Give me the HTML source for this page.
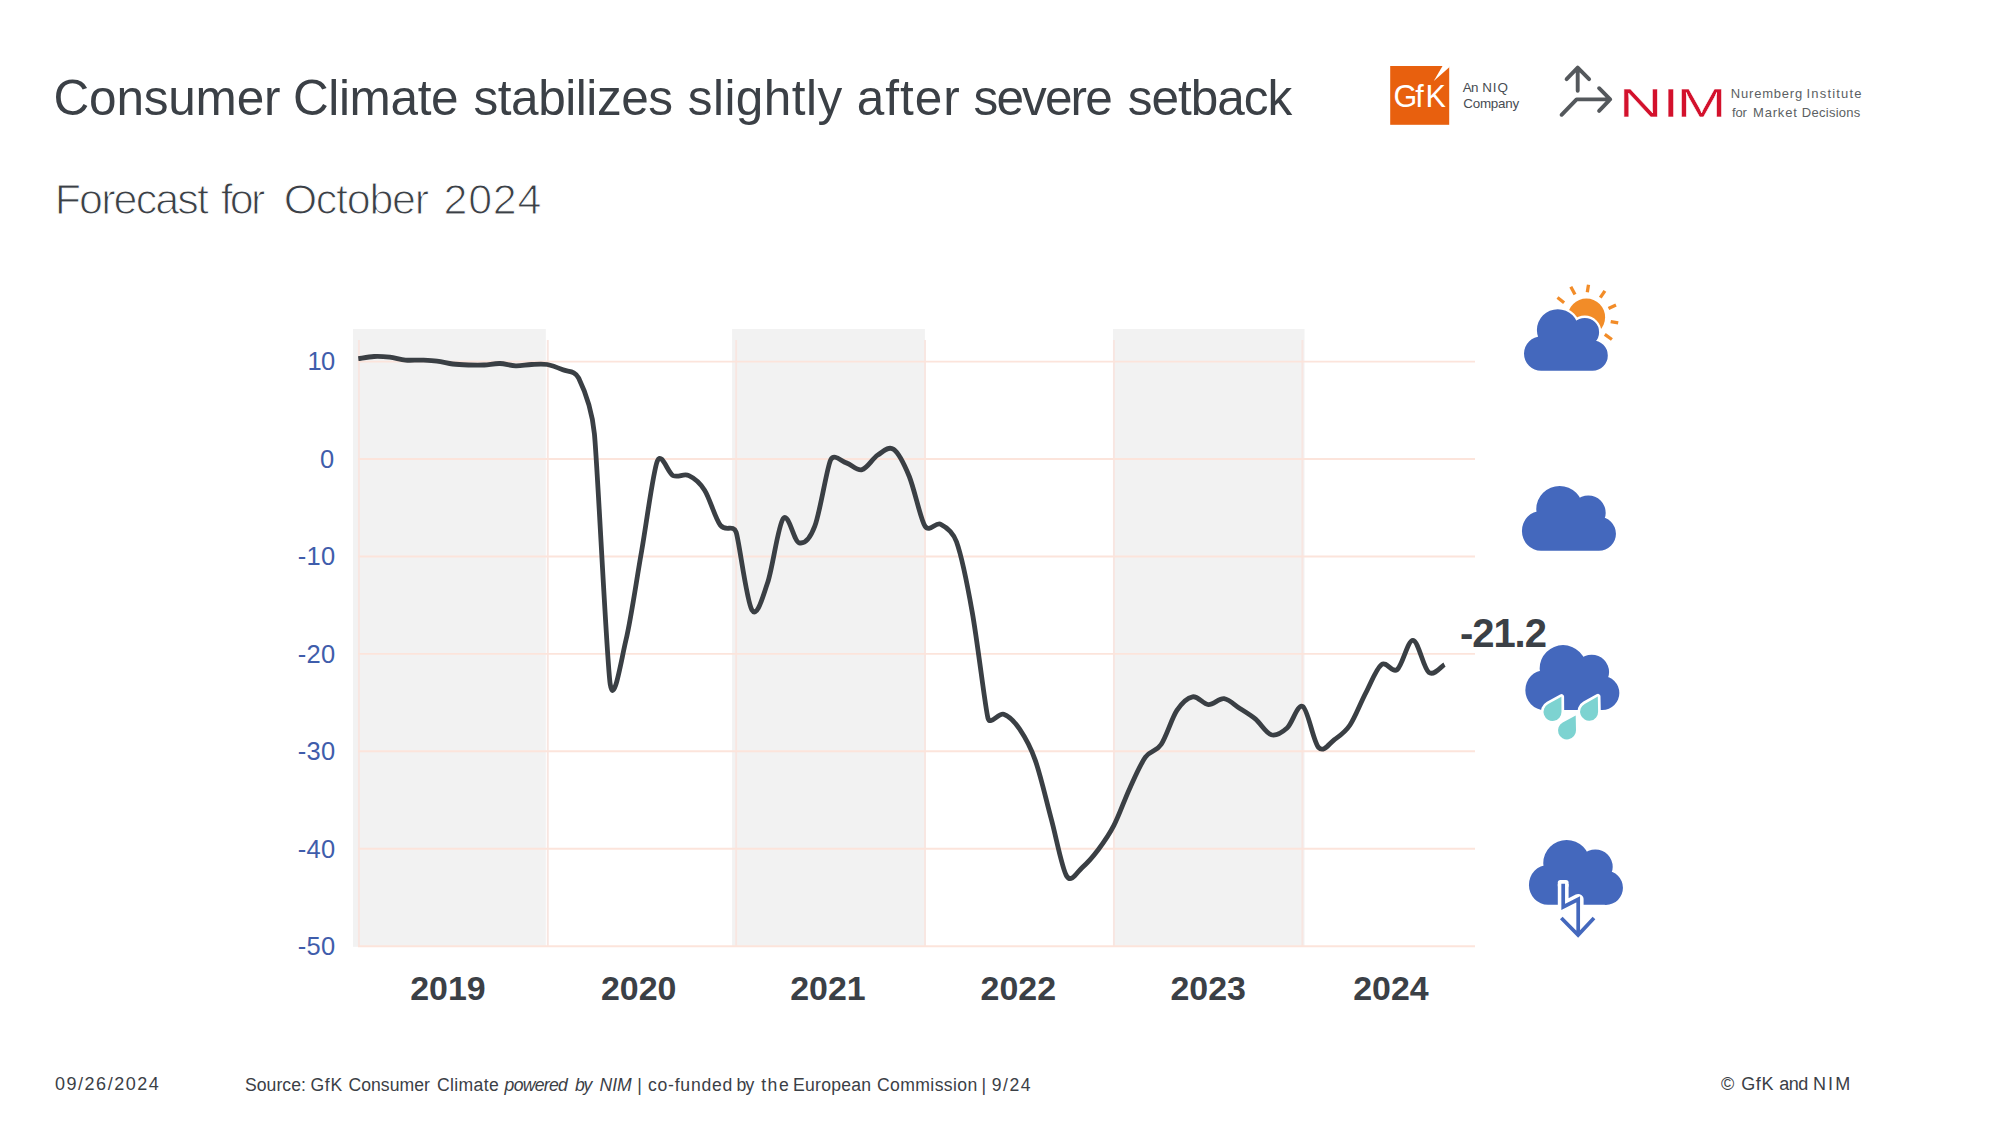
<!DOCTYPE html>
<html lang="en"><head><meta charset="utf-8"><title>Consumer Climate stabilizes slightly after severe setback</title>
<style>html,body{margin:0;padding:0;background:#fff;width:2000px;height:1125px;overflow:hidden}svg text{font-family:"Liberation Sans",Arial,sans-serif}</style></head>
<body>
<svg width="2000" height="1125" viewBox="0 0 2000 1125" style="display:block">
<rect width="2000" height="1125" fill="#fff"/>
<text y="114.5" font-size="49.5" fill="#3b4046"><tspan x="53.50" letter-spacing="-0.193">Consumer</tspan> <tspan x="293.00" letter-spacing="-0.376">Climate</tspan> <tspan x="473.50" letter-spacing="-0.454">stabilizes</tspan> <tspan x="687.75" letter-spacing="0.457">slightly</tspan> <tspan x="856.75" letter-spacing="0.984">after</tspan> <tspan x="973.50" letter-spacing="-1.859">severe</tspan> <tspan x="1127.75" letter-spacing="-1.015">setback</tspan></text>
<text y="214.1" font-size="43" fill="#3b4046" stroke="#fff" stroke-width="1.1"><tspan x="54.70" letter-spacing="-1.861">Forecast</tspan> <tspan x="220.66" letter-spacing="-2.795">for</tspan> <tspan x="283.70" letter-spacing="-1.273">October</tspan> <tspan x="443.60" letter-spacing="0.719">2024</tspan></text>
<g>
<rect x="1390.2" y="66" width="59" height="58.8" fill="#e8600e"/>
<polygon points="1442.8,65.5 1449.6,65.5 1449.6,67 1433.8,81" fill="#fff"/>
<text y="106.8" font-size="30.5" fill="#fff"><tspan x="1393.40" letter-spacing="0.000">G</tspan><tspan x="1415.20" letter-spacing="0.000">f</tspan><tspan x="1425.40" letter-spacing="0.000">K</tspan></text>
<text y="91.8" font-size="13.4" fill="#474c52"><tspan x="1462.80" letter-spacing="-0.731">An</tspan> <tspan x="1482.20" letter-spacing="1.005">NIQ</tspan></text>
<text y="108.2" font-size="13.4" fill="#474c52"><tspan x="1463.20" letter-spacing="-0.202">Company</tspan></text>
</g>
<g fill="none" stroke="#54585c" stroke-width="3.9" stroke-linecap="round" stroke-linejoin="round">
<path d="M1577.7,90.8V67.6M1566.6,79.1L1577.7,67.6L1589.1,79.1"/>
<path d="M1561.6,114.8L1576.6,99.4H1610M1599.1,88.2L1610.2,99.4L1599.1,110.9"/>
</g>
<g transform="translate(0,116.75) scale(1,0.6669)"><text y="0" font-size="60" fill="#d3112c" stroke="#fff" stroke-width="0.55"><tspan x="1619.00" letter-spacing="0.000">N</tspan><tspan x="1662.40" letter-spacing="0.000">I</tspan><tspan x="1676.50" letter-spacing="0.000">M</tspan></text></g>
<text y="98.4" font-size="13" fill="#5b5f63"><tspan x="1730.80" letter-spacing="0.801">Nuremberg</tspan> <tspan x="1806.60" letter-spacing="1.163">Institute</tspan></text>
<text y="116.6" font-size="13" fill="#5b5f63"><tspan x="1732.00" letter-spacing="-0.121">for</tspan> <tspan x="1753.00" letter-spacing="0.816">Market</tspan> <tspan x="1801.80" letter-spacing="0.268">Decisions</tspan></text>
<rect x="353" y="329" width="192.8" height="617.8" fill="#f2f2f2"/>
<rect x="732.1" y="329" width="192.8" height="617.8" fill="#f2f2f2"/>
<rect x="1113" y="329" width="191.5" height="617.8" fill="#f2f2f2"/>
<g stroke="#f8e6e1" stroke-width="1.9" fill="none">
<line x1="358.9" y1="340" x2="358.9" y2="946.6"/>
<line x1="547.8" y1="340" x2="547.8" y2="946.6"/>
<line x1="736.2" y1="340" x2="736.2" y2="946.6"/>
<line x1="925.0" y1="340" x2="925.0" y2="946.6"/>
<line x1="1113.9" y1="340" x2="1113.9" y2="946.6"/>
<line x1="1302.4" y1="340" x2="1302.4" y2="946.6"/>
</g>
<g stroke="#fce4db" stroke-width="1.9" fill="none">
<line x1="358" y1="361.6" x2="1475" y2="361.6"/>
<line x1="358" y1="459.0" x2="1475" y2="459.0"/>
<line x1="358" y1="556.5" x2="1475" y2="556.5"/>
<line x1="358" y1="653.9" x2="1475" y2="653.9"/>
<line x1="358" y1="751.3" x2="1475" y2="751.3"/>
<line x1="358" y1="848.8" x2="1475" y2="848.8"/>
<line x1="358" y1="946.2" x2="1475" y2="946.2"/>
</g>
<text y="370.2" font-size="25.5" fill="#3f5dab"><tspan x="307.40" letter-spacing="-0.682">10</tspan></text>
<text y="467.7" font-size="25.5" fill="#3f5dab"><tspan x="320.10" letter-spacing="0.000">0</tspan></text>
<text y="565.2" font-size="25.5" fill="#3f5dab"><tspan x="297.70" letter-spacing="0.263">-10</tspan></text>
<text y="662.6" font-size="25.5" fill="#3f5dab"><tspan x="297.70" letter-spacing="0.263">-20</tspan></text>
<text y="760.0" font-size="25.5" fill="#3f5dab"><tspan x="297.70" letter-spacing="0.263">-30</tspan></text>
<text y="857.5" font-size="25.5" fill="#3f5dab"><tspan x="297.70" letter-spacing="0.263">-40</tspan></text>
<text y="955.0" font-size="25.5" fill="#3f5dab"><tspan x="297.70" letter-spacing="0.263">-50</tspan></text>
<text x="448" y="999.8" font-size="33.5" font-weight="700" fill="#3b4046" text-anchor="middle" textLength="75.5" lengthAdjust="spacingAndGlyphs">2019</text>
<text x="638.75" y="999.8" font-size="33.5" font-weight="700" fill="#3b4046" text-anchor="middle" textLength="75.5" lengthAdjust="spacingAndGlyphs">2020</text>
<text x="828" y="999.8" font-size="33.5" font-weight="700" fill="#3b4046" text-anchor="middle" textLength="75.5" lengthAdjust="spacingAndGlyphs">2021</text>
<text x="1018.3" y="999.8" font-size="33.5" font-weight="700" fill="#3b4046" text-anchor="middle" textLength="75.5" lengthAdjust="spacingAndGlyphs">2022</text>
<text x="1208.2" y="999.8" font-size="33.5" font-weight="700" fill="#3b4046" text-anchor="middle" textLength="75.5" lengthAdjust="spacingAndGlyphs">2023</text>
<text x="1391" y="999.8" font-size="33.5" font-weight="700" fill="#3b4046" text-anchor="middle" textLength="75.5" lengthAdjust="spacingAndGlyphs">2024</text>
<path d="M358.3,358.6C360.9,358.3 368.8,356.7 374.0,356.5C379.3,356.2 384.5,356.6 389.8,357.2C395.0,357.8 400.3,359.6 405.5,360.1C410.8,360.6 416.0,359.9 421.3,360.1C426.5,360.3 431.8,360.4 437.0,361.1C442.3,361.7 447.5,363.3 452.8,364.0C458.0,364.6 463.2,364.8 468.5,365.0C473.7,365.1 479.0,365.2 484.2,365.0C489.5,364.7 494.7,363.3 500.0,363.5C505.2,363.7 510.5,365.8 515.7,365.9C521.0,366.1 526.2,364.7 531.5,364.5C536.7,364.2 542.0,363.6 547.2,364.5C552.5,365.4 557.7,367.6 562.9,369.8C568.2,372.1 574.8,370.1 578.7,378.1C582.6,386.1 591.5,404.9 594.4,433.7C597.4,462.4 606.7,661.1 610.2,684.1C613.7,707.1 620.7,662.5 625.9,640.3C631.2,618.0 636.4,580.5 641.7,550.6C646.9,520.7 653.2,470.9 657.4,460.9C661.6,451.0 667.9,473.1 673.1,475.6C678.4,478.0 683.6,473.1 688.9,475.6C694.1,478.0 699.4,481.9 704.6,490.2C709.9,498.5 715.1,518.3 720.4,525.3C725.6,532.2 733.1,524.0 736.1,532.1C739.1,540.1 746.6,601.6 751.9,610.0C757.1,618.5 762.3,598.0 767.6,582.8C772.8,567.5 778.1,525.1 783.3,518.4C788.6,511.8 793.8,541.5 799.1,542.8C804.3,544.1 809.6,540.0 814.8,526.2C820.1,512.4 827.0,467.1 830.6,460.0C834.1,452.8 841.1,461.3 846.3,462.9C851.6,464.5 856.8,471.0 862.0,469.7C867.3,468.4 872.5,458.5 877.8,455.1C883.0,451.7 888.3,445.7 893.5,449.3C898.8,452.8 904.0,463.7 909.3,476.5C914.5,489.4 920.6,519.6 925.0,526.2C929.4,532.9 935.5,521.7 940.8,524.3C946.0,526.9 952.5,530.7 956.5,541.8C960.5,552.9 967.0,582.6 972.2,612.0C977.5,641.4 985.6,710.5 988.0,718.2C990.4,726.0 998.5,712.5 1003.7,714.3C1009.0,716.1 1014.2,721.3 1019.5,728.9C1024.7,736.6 1030.0,745.3 1035.2,760.1C1040.5,774.9 1045.7,798.3 1050.9,817.6C1056.2,836.9 1061.9,868.5 1066.7,876.1C1071.5,883.7 1077.2,871.7 1082.4,867.3C1087.7,862.9 1092.9,856.8 1098.2,849.8C1103.4,842.8 1108.7,835.6 1113.9,825.4C1119.2,815.2 1124.4,799.8 1129.7,788.4C1134.9,777.0 1140.2,764.5 1145.4,757.2C1150.6,749.9 1155.9,752.3 1161.1,744.5C1166.4,736.7 1171.6,718.4 1176.9,710.4C1182.1,702.5 1187.4,697.8 1192.6,696.8C1197.9,695.8 1203.1,704.2 1208.4,704.6C1213.6,704.9 1218.9,698.1 1224.1,698.7C1229.4,699.4 1234.6,705.1 1239.9,708.5C1245.1,711.9 1250.3,714.8 1255.6,719.2C1260.8,723.6 1266.1,733.3 1271.3,734.8C1276.6,736.2 1281.8,732.7 1287.1,728.0C1292.3,723.3 1297.6,703.3 1302.8,706.5C1308.1,709.8 1313.3,741.9 1318.6,747.5C1323.8,753.0 1329.1,743.4 1334.3,739.7C1339.6,735.9 1344.8,732.8 1350.0,725.0C1355.3,717.2 1360.5,702.9 1365.8,692.9C1371.0,682.8 1376.3,668.5 1381.5,664.6C1386.8,660.7 1392.0,673.6 1397.3,669.5C1402.5,665.4 1407.8,639.8 1413.0,640.3C1418.3,640.7 1423.5,668.4 1428.8,672.4C1434.0,676.5 1441.9,665.9 1444.5,664.6" fill="none" stroke="#3a3f44" stroke-width="4.8" stroke-linecap="butt" stroke-linejoin="round"/>
<text y="646.6" font-size="40" fill="#3b4046" font-weight="700"><tspan x="1459.90" letter-spacing="-1.031">-21.2</tspan></text>
<g>
<circle cx="1586.4" cy="317.25" r="18.7" fill="#f28c28"/>
<g stroke="#f28c28" stroke-width="3.3">
<line x1="1557.5" y1="297.5" x2="1564.1" y2="302.7"/>
<line x1="1570.8" y1="286.7" x2="1575.0" y2="294.5"/>
<line x1="1588.5" y1="284.8" x2="1587.3" y2="292.3"/>
<line x1="1604.9" y1="290.8" x2="1600.3" y2="297.7"/>
<line x1="1616.0" y1="304.9" x2="1608.5" y2="308.4"/>
<line x1="1618.2" y1="322.9" x2="1610.7" y2="321.6"/>
<line x1="1611.9" y1="339.5" x2="1604.8" y2="334.3"/>
</g>
<path d="M1534.60,330.10a23.20,23.20 0 1,1 46.40,0a23.20,23.20 0 1,1 -46.40,0ZM1521.70,353.60a19.50,19.50 0 1,1 39.00,0a19.50,19.50 0 1,1 -39.00,0ZM1568.20,332.20a16.60,16.60 0 1,1 33.20,0a16.60,16.60 0 1,1 -33.20,0ZM1575.10,355.60a17.50,17.50 0 1,1 35.00,0a17.50,17.50 0 1,1 -35.00,0ZM1541.20,340.00H1592.60V373.10H1541.20Z" fill="#fff"/>
<path d="M1536.90,330.10a20.90,20.90 0 1,1 41.80,0a20.90,20.90 0 1,1 -41.80,0ZM1524.00,353.60a17.20,17.20 0 1,1 34.40,0a17.20,17.20 0 1,1 -34.40,0ZM1570.50,332.20a14.30,14.30 0 1,1 28.60,0a14.30,14.30 0 1,1 -28.60,0ZM1577.40,355.60a15.20,15.20 0 1,1 30.40,0a15.20,15.20 0 1,1 -30.40,0ZM1541.20,340.00H1592.60V370.80H1541.20Z" fill="#4468bd"/>
</g>
<path d="M1536.25,509.30a23.40,23.40 0 1,1 46.80,0a23.40,23.40 0 1,1 -46.80,0ZM1521.94,530.94a19.04,19.90 0 1,1 38.08,0a19.04,19.90 0 1,1 -38.08,0ZM1570.90,512.90a17.40,17.40 0 1,1 34.80,0a17.40,17.40 0 1,1 -34.80,0ZM1581.85,533.80a17.05,17.05 0 1,1 34.10,0a17.05,17.05 0 1,1 -34.10,0ZM1540.98,515.90H1598.90V550.85H1540.98Z" fill="#4468bd"/>
<path d="M1539.65,668.50a23.40,23.40 0 1,1 46.80,0a23.40,23.40 0 1,1 -46.80,0ZM1525.34,690.14a19.04,19.90 0 1,1 38.08,0a19.04,19.90 0 1,1 -38.08,0ZM1574.30,672.10a17.40,17.40 0 1,1 34.80,0a17.40,17.40 0 1,1 -34.80,0ZM1585.25,693.00a17.05,17.05 0 1,1 34.10,0a17.05,17.05 0 1,1 -34.10,0ZM1544.38,675.10H1602.30V710.05H1544.38Z" fill="#4468bd"/>
<path d="M1561.4,696.8L1561.5,711.8A9.0,9.0 0 1 1 1548.2,704.0Z" fill="#7dd3d1" stroke="#fff" stroke-width="5.4" stroke-linejoin="round" paint-order="stroke"/>
<path d="M1597.8,696.5L1598.1,711.5A9.0,9.0 0 1 1 1584.7,703.9Z" fill="#7dd3d1" stroke="#fff" stroke-width="5.4" stroke-linejoin="round" paint-order="stroke"/>
<path d="M1575.7,715.5L1576.0,730.2A9.0,9.0 0 1 1 1562.7,722.5Z" fill="#7dd3d1" stroke="#fff" stroke-width="5.4" stroke-linejoin="round" paint-order="stroke"/>
<path d="M1543.25,863.30a23.40,23.40 0 1,1 46.80,0a23.40,23.40 0 1,1 -46.80,0ZM1528.94,884.94a19.04,19.90 0 1,1 38.08,0a19.04,19.90 0 1,1 -38.08,0ZM1577.90,866.90a17.40,17.40 0 1,1 34.80,0a17.40,17.40 0 1,1 -34.80,0ZM1588.85,887.80a17.05,17.05 0 1,1 34.10,0a17.05,17.05 0 1,1 -34.10,0ZM1547.98,869.90H1605.90V904.85H1547.98Z" fill="#4468bd"/>
<rect x="1557.8" y="880" width="10.8" height="8" rx="2.6" fill="#fff"/>
<path d="M1563.2,884V907L1578.2,899.3V920" fill="none" stroke="#fff" stroke-width="10.8" stroke-linecap="butt" stroke-linejoin="round"/>
<path d="M1563.2,883.7V907L1578.2,899.3V934M1561.3,918L1578.1,935L1594,918" fill="none" stroke="#4468bd" stroke-width="3.7" stroke-linejoin="miter"/>
<text y="1090.2" font-size="18" fill="#3b4046"><tspan x="55.00" letter-spacing="1.519">09/26/2024</tspan></text>
<text y="1090.6" font-size="17.6" fill="#3b4046">
<tspan x="245.00" letter-spacing="0.042">Source:</tspan> <tspan x="310.40" letter-spacing="0.713">GfK</tspan> <tspan x="348.40" letter-spacing="0.043">Consumer</tspan> <tspan x="437.00" letter-spacing="0.358">Climate</tspan>
<tspan x="504.60" letter-spacing="-0.717" font-style="italic">powered</tspan> <tspan x="574.88" letter-spacing="-1.144" font-style="italic">by</tspan> <tspan x="599.60" letter-spacing="-0.097" font-style="italic">NIM</tspan>
<tspan x="637.20" letter-spacing="0.000">|</tspan> <tspan x="648.00" letter-spacing="0.754">co-funded</tspan> <tspan x="736.60" letter-spacing="-0.785">by</tspan> <tspan x="761.20" letter-spacing="1.514">the</tspan> <tspan x="793.00" letter-spacing="0.255">European</tspan> <tspan x="877.00" letter-spacing="0.389">Commission</tspan> <tspan x="981.60" letter-spacing="0.000">|</tspan> <tspan x="991.80" letter-spacing="1.514">9/24</tspan>
</text>
<text y="1089.8" font-size="18" fill="#3b4046"><tspan x="1721.00" letter-spacing="0.000">©</tspan> <tspan x="1741.20" letter-spacing="0.649">GfK</tspan> <tspan x="1779.30" letter-spacing="-0.561">and</tspan> <tspan x="1813.00" letter-spacing="2.100">NIM</tspan></text>
</svg>
</body></html>
